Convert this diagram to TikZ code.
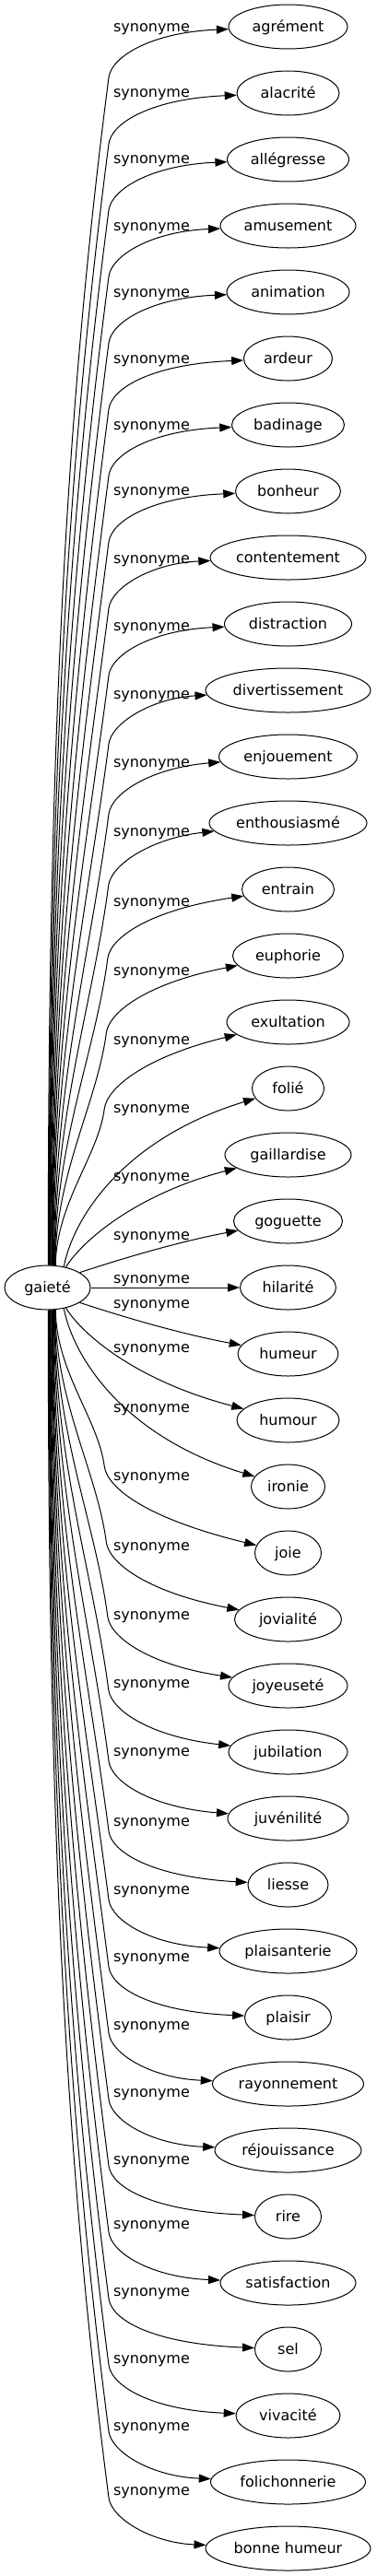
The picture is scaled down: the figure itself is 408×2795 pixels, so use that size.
\documentclass[tikz,border=0pt]{standalone}
\usepackage{fontspec}
\setmainfont{DejaVu Sans}
\usetikzlibrary{shapes.geometric,arrows.meta}
\begin{document}
\begin{tikzpicture}[x=1pt,y=-1pt,
  font=\fontsize{16pt}{19pt}\selectfont,
  syn/.style={draw, ellipse, line width=1pt, minimum height=48pt, inner sep=0pt, text height=12pt, text depth=2pt},
  lab/.style={inner sep=0pt, text height=12pt, text depth=2pt},
  edge/.style={line width=1pt, -{Triangle[length=13pt,width=9pt]}}]
\useasboundingbox (0,0) rectangle (408,2795);
\node[syn, minimum width=93pt] (g) at (51.5,1397) {gaieté};
\foreach \i/\txt/\w in {0/agrément/129, 1/alacrité/111, 2/allégresse/132, 3/amusement/147,
  4/animation/133, 5/ardeur/96, 6/badinage/122, 7/bonheur/114, 8/contentement/169,
  9/distraction/138, 10/divertissement/179, 11/enjouement/150, 12/enthousiasmé/171,
  13/entrain/100, 14/euphorie/120, 15/exultation/133, 16/folié/78, 17/gaillardise/137,
  18/goguette/118, 19/hilarité/104, 20/humeur/109, 21/humour/111, 22/ironie/80,
  23/joie/72, 24/jovialité/116, 25/joyeuseté/129, 26/jubilation/129, 27/juvénilité/131,
  28/liesse/87, 29/plaisanterie/149, 30/plaisir/94, 31/rayonnement/164,
  32/réjouissance/159, 33/rire/72, 34/satisfaction/147, 35/sel/72, 36/vivacité/113,
  37/folichonnerie/168, 38/bonne humeur/179}
  {\node[syn, minimum width=\w pt] (t\i) at (312.5,29+72*\i) {\txt};}
\foreach \i/\ly in {0/29, 1/100, 2/172, 3/245, 4/317, 5/389, 6/461, 7/532, 8/606, 9/679,
  10/753, 11/827, 12/902, 13/978, 14/1053, 15/1128, 16/1202, 17/1276, 18/1340, 19/1387,
  20/1414, 21/1462, 22/1527, 23/1601, 24/1677, 25/1752, 26/1826, 27/1900, 28/1976,
  29/2050, 30/2123, 31/2197, 32/2270, 33/2343, 34/2413, 35/2486, 36/2559, 37/2632, 38/2702}
  {\node[lab] (l\i) at (164.5,\ly) {synonyme};}
% far edges (upper m, lower 38-m mirrored)
\foreach \m in {0,...,15}{
  \pgfmathsetmacro{\ty}{29+72*\m}
  \pgfmathsetmacro{\q}{max(0,\m-8)}
  \pgfmathsetmacro{\b}{55+0.8*\q*\q}
  \pgfmathsetmacro{\dd}{6+0.65*\q*\q}
  \pgfmathsetmacro{\r}{max(0,\m-11)}
  \pgfmathsetmacro{\bx}{118-0.3*\r*\r}
  \pgfmathsetmacro{\dx}{165-0.5*\r*\r}
  \pgfmathtruncatemacro{\ang}{88-1.2*\m}
  \pgfmathsetmacro{\sx}{52+0.6*\m}
  \pgfmathsetmacro{\By}{\ty+\b}
  \pgfmathsetmacro{\D}{1373-\By}
  \pgfmathsetmacro{\Cy}{1373-0.4*\D}
  \pgfmathsetmacro{\Lt}{0.3*\D}
  \pgfmathsetmacro{\Ctx}{\bx-0.13*\Lt}
  \pgfmathsetmacro{\Cty}{\By+\Lt}
  \pgfmathsetmacro{\Dax}{\bx+3}
  \pgfmathsetmacro{\Day}{\By-23}
  \pgfmathsetmacro{\Dby}{\ty+\dd}
  \pgfmathtruncatemacro{\j}{38-\m}
  \draw[edge] (g.\ang) .. controls (\sx,\Cy) and (\Ctx,\Cty) .. (\bx,\By)
    .. controls (\Dax,\Day) and (\dx,\Dby) .. (t\m);
  \draw[edge] (g.-\ang) .. controls (\sx,2794-\Cy) and (\Ctx,2794-\Cty) .. (\bx,2794-\By)
    .. controls (\Dax,2794-\Day) and (\dx,2794-\Dby) .. (t\j);
}
% near edges
\draw[edge] (g.52) .. controls (80,1320) and (135,1235) .. (t16);
\draw[edge] (g.-52) .. controls (80,1474) and (135,1559) .. (t22);
\draw[edge] (g.48) .. controls (90,1345) and (150,1295) .. (t17);
\draw[edge] (g.-48) .. controls (90,1449) and (150,1499) .. (t21);
\draw[edge] (g.25) .. controls (140,1363) and (200,1346) .. (t18);
\draw[edge] (g.-25) .. controls (140,1431) and (200,1448) .. (t20);
\draw[edge] (g) -- (t19);
\end{tikzpicture}
\end{document}
